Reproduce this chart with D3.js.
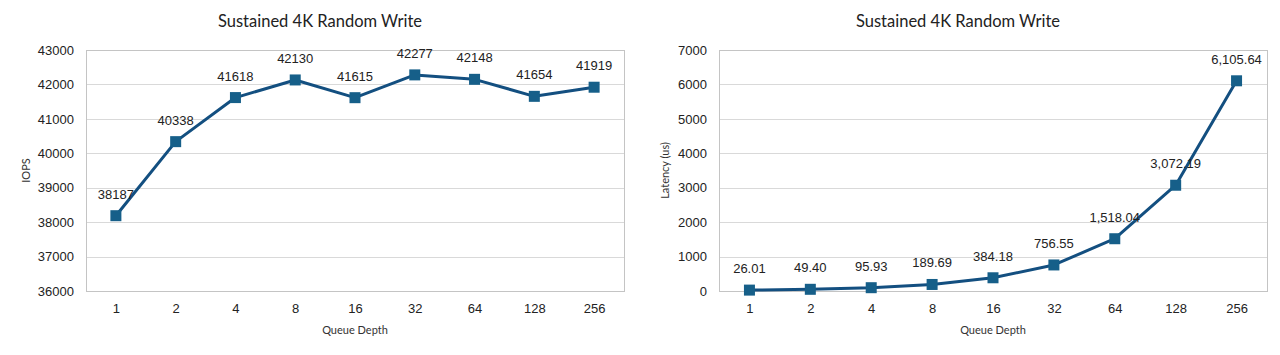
<!DOCTYPE html>
<html><head><meta charset="utf-8">
<script src="https://cdn.jsdelivr.net/npm/d3@7"></script>
<style>body{margin:0;background:#fff}svg{display:block}</style>
</head><body><svg id="c" width="1280" height="355"></svg>
<script>
const categories = ["1","2","4","8","16","32","64","128","256"];
const iopsValues = [38187,40338,41618,42130,41615,42277,42148,41654,41919];
const latencyValues = [26.01,49.40,95.93,189.69,384.18,756.55,1518.04,3072.19,6105.64];
const iopsTicks = [36000,37000,38000,39000,40000,41000,42000,43000];
const latencyTicks = [0,1000,2000,3000,4000,5000,6000,7000];
const title = "Sustained 4K Random Write";

const svg = d3.select("#c");
const lineColor = "#134f80", markerColor = "#165f89";

function chart(opt){
  const g = svg.append("g");
  const x = d3.scalePoint().domain(categories).range([opt.x0, opt.x1]).padding(0.5);
  const y = d3.scaleLinear().domain(opt.domain).range([opt.y1, opt.y0]);
  g.selectAll(".grid").data(opt.ticks).join("line")
    .attr("x1", opt.x0).attr("x2", opt.x1)
    .attr("y1", d=>Math.round(y(d))+0.5).attr("y2", d=>Math.round(y(d))+0.5)
    .attr("stroke", "#d9d9d9").attr("stroke-width", 1.2);
  g.append("rect").attr("x", opt.x0+0.5).attr("y", opt.y0+0.5)
    .attr("width", opt.x1-opt.x0).attr("height", opt.y1-opt.y0)
    .attr("fill","none").attr("stroke","#c4c4c4").attr("stroke-width",1);
  const ya = d3.axisLeft(y).tickValues(opt.ticks).tickSize(0).tickPadding(12).tickFormat(d3.format("d"));
  const yg = g.append("g").attr("transform",`translate(${opt.x0},0)`).call(ya);
  yg.select(".domain").remove();
  yg.selectAll("text").attr("font-family","Liberation Sans, Arial, sans-serif").attr("font-size",13).attr("fill","#222");
  const xa = d3.axisBottom(x).tickSize(0).tickPadding(13);
  const xg = g.append("g").attr("transform",`translate(0,${opt.y1})`).call(xa);
  xg.select(".domain").remove();
  xg.selectAll("text").attr("font-family","Liberation Sans, Arial, sans-serif").attr("font-size",13).attr("fill","#222");
  g.append("text").attr("x",(opt.x0+opt.x1)/2 - 35).attr("y",27).attr("text-anchor","middle")
    .attr("font-family","Lato, Open Sans, sans-serif").attr("font-size",16.5).attr("fill","#222").text(title);
  g.append("text").attr("x",(opt.x0+opt.x1)/2).attr("y",334).attr("text-anchor","middle")
    .attr("font-family","Lato, Open Sans, sans-serif").attr("font-size",11).attr("fill","#333").text("Queue Depth");
  g.append("text").attr("transform",`translate(${opt.ytX},${(opt.y0+opt.y1)/2}) rotate(-90)`).attr("text-anchor","middle")
    .attr("font-family","Lato, Open Sans, sans-serif").attr("font-size",11).attr("fill","#333").text(opt.ytitle);
  const data = categories.map((c,i)=>({c, v: opt.values[i]}));
  g.append("path").datum(data).attr("fill","none").attr("stroke",lineColor).attr("stroke-width",3)
    .attr("stroke-linejoin","round")
    .attr("d", d3.line().x(d=>x(d.c)).y(d=>y(d.v)));
  g.selectAll(".m").data(data).join("rect")
    .attr("x", d=>x(d.c)-5.5).attr("y", d=>y(d.v)-5.5).attr("width",11).attr("height",11)
    .attr("fill", markerColor);
  g.selectAll(".lbl").data(data).join("text")
    .attr("x", d=>x(d.c)).attr("y", d=>y(d.v)-17).attr("text-anchor","middle")
    .attr("font-family","Liberation Sans, Arial, sans-serif").attr("font-size",13).attr("fill","#222")
    .text(d=>opt.fmt(d.v));
}

chart({x0:86, x1:624, y0:50, y1:291, domain:[36000,43000], ticks:iopsTicks, values:iopsValues,
  ytitle:"IOPS", ytX:30, fmt:d3.format("d")});
chart({x0:719, x1:1267, y0:50, y1:291, domain:[0,7000], ticks:latencyTicks, values:latencyValues,
  ytitle:"Latency (us)", ytX:669, fmt:d3.format(",.2f")});
</script></body></html>
